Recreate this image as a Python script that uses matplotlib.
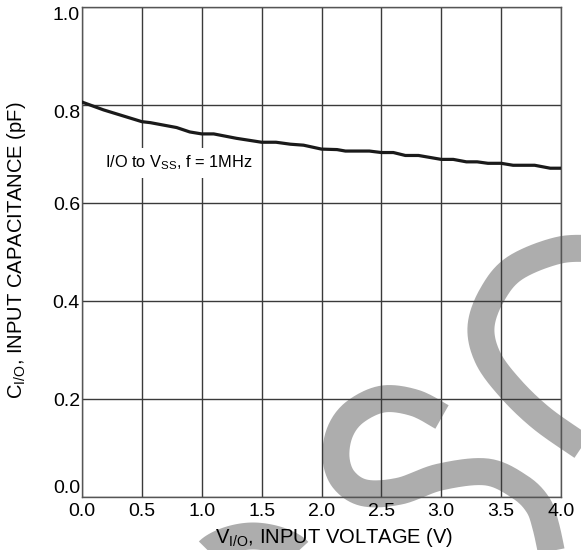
import numpy as np
import matplotlib
matplotlib.use("Agg")
import matplotlib.pyplot as plt
from matplotlib.lines import Line2D

plt.rcParams['font.family'] = ['Liberation Sans', 'DejaVu Sans']
plt.rcParams['mathtext.fontset'] = 'custom'
plt.rcParams['mathtext.rm'] = 'Liberation Sans'
plt.rcParams['mathtext.it'] = 'Liberation Sans'

# C_I/O vs V_I/O
v_io = [0.0, 0.18, 0.5, 0.57, 0.79, 0.9, 1.0, 1.1, 1.29, 1.5, 1.62, 1.74, 1.85,
        2.0, 2.13, 2.2, 2.4, 2.5, 2.6, 2.7, 2.81, 3.0, 3.1, 3.21, 3.3, 3.39,
        3.5, 3.6, 3.78, 3.91, 4.0]
c_io = [0.806, 0.790, 0.766, 0.764, 0.754, 0.745, 0.741, 0.741, 0.732, 0.724,
        0.724, 0.720, 0.718, 0.710, 0.709, 0.706, 0.706, 0.703, 0.703, 0.697,
        0.697, 0.689, 0.689, 0.684, 0.684, 0.681, 0.681, 0.677, 0.677, 0.671,
        0.671]

xticks = [0.0, 0.5, 1.0, 1.5, 2.0, 2.5, 3.0, 3.5, 4.0]
yticks = [0.0, 0.2, 0.4, 0.6, 0.8, 1.0]

W, H = 581, 550


def catmull(pts, n=20):
    # smooth a centre line for the watermark strokes
    p = np.array(pts, dtype=float)
    p = np.vstack([p[0], p, p[-1]])
    out = []
    for i in range(1, len(p) - 2):
        p0, p1, p2, p3 = p[i - 1], p[i], p[i + 1], p[i + 2]
        for t in np.linspace(0, 1, n, endpoint=False):
            out.append(0.5 * ((2 * p1) + (-p0 + p2) * t
                              + (2 * p0 - 5 * p1 + 4 * p2 - p3) * t ** 2
                              + (-p0 + 3 * p1 - 3 * p2 + p3) * t ** 3))
    out.append(p[-2])
    return np.array(out)


def watermark(fig, pts, lw=27):
    c = catmull(pts)
    fig.add_artist(Line2D(c[:, 0] / W, 1 - c[:, 1] / H, transform=fig.transFigure,
                          color='#adadad', lw=lw * 72 / 100,
                          solid_capstyle='butt', solid_joinstyle='round',
                          zorder=-5))


fig = plt.figure(figsize=(5.81, 5.5), dpi=100)
fig.patch.set_facecolor('white')
ax = fig.add_axes([82 / W, 1 - 497 / H, (561 - 82) / W, (497 - 7) / H])
ax.patch.set_alpha(0)

# grey "S" watermark behind the grid
watermark(fig, [(600, 249), (560, 250), (515, 268), (492, 295), (481, 327),
                (488, 358), (510, 388), (540, 417), (575, 442), (600, 458)])
watermark(fig, [(442, 417), (415, 403), (383, 399), (355, 412), (340, 432),
                (336, 458), (344, 480), (365, 493), (400, 491), (440, 477),
                (487, 472), (520, 487), (538, 505), (546, 527), (553, 560)])
watermark(fig, [(190, 580), (212, 548), (253, 536), (295, 548), (314, 580)])

ax.plot(v_io, c_io, color='#1a1a1a', lw=2.3, zorder=4)

ax.set_xlim(0, 4)
ax.set_ylim(0, 1)
ax.set_xticks(xticks)
ax.set_yticks(yticks)
ax.set_xticklabels(['%.1f' % v for v in xticks])
ax.set_yticklabels(['%.1f' % v for v in yticks])
ax.tick_params(length=0, labelsize=14, colors='black')
ax.tick_params(axis='y', pad=1.5)
ax.tick_params(axis='x', pad=4)
for lbl, v in zip(ax.get_yticklabels(), yticks):
    if v >= 0.8:
        lbl.set_va('top')
    elif v == 0.0:
        lbl.set_va('bottom')
ax.grid(True, color='#3a3a3a', lw=1)
for s in ax.spines.values():
    s.set_color('#555555')
    s.set_linewidth(1)

ax.text(0.19, 0.682, r'I/O to V$_{\mathrm{SS}}$, f = 1MHz', fontsize=11.8,
        va='center', ha='left', zorder=5,
        bbox=dict(fc='white', ec='none', pad=4))

fig.text(334 / W, 1 - 543 / H, r'V$_{\mathrm{I/O}}$, INPUT VOLTAGE (V)',
         fontsize=14.5, ha='center', va='baseline')
fig.text(17 / W, 1 - 250 / H, r'C$_{\mathrm{I/O}}$, INPUT CAPACITANCE (pF)',
         fontsize=14.5, ha='center', va='center', rotation=90)

fig.savefig('out.png', dpi=100)
